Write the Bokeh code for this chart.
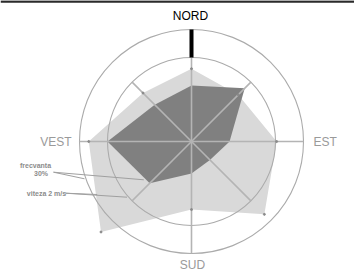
import numpy as np
from bokeh.plotting import figure
from bokeh.models import Range1d
from bokeh.core.properties import value
from bokeh.embed import file_html
from bokeh.resources import INLINE

# ---- data ----
directions = ["N", "NE", "E", "SE", "S", "SW", "W", "NW"]
angles_deg = [0, 45, 90, 135, 180, 225, 270, 315]
# values in ring units (inner ring = 3, outer ring = 4)
viteza = [2.60, 2.36, 3.04, 3.68, 2.43, 4.57, 3.67, 2.45]      # light polygon
frecventa = [2.00, 2.69, 1.36, 0.93, 1.14, 2.11, 3.00, 1.86]   # dark polygon
rings = [3, 4]
cardinal_labels = ["NORD", "EST", "SUD", "VEST"]

PX = 28.0  # pixels per ring unit

W, H = 354, 271
p = figure(width=W, height=H, output_backend="svg", toolbar_location=None,
           x_range=Range1d(-191, 163), y_range=Range1d(-130, 141),
           min_border=0)
p.axis.visible = False
p.grid.visible = False
p.outline_line_color = None
p.background_fill_color = "white"

# top frame line
p.segment(x0=[-191], y0=[140], x1=[163], y1=[140], line_color="#2a2a2a", line_width=2.5)

th = np.radians(angles_deg)

def xy(vals):
    r = np.array(vals) * PX
    return list(r * np.sin(th)), list(r * np.cos(th))

lx, ly = xy(viteza)
p.patch(lx, ly, fill_color="#d9d9d9", line_color=None)
dx, dy = xy(frecventa)
p.patch(dx, dy, fill_color="#808080", line_color=None)

# rings
for rv in rings:
    p.circle(x=[0], y=[0], radius=[rv * PX], fill_color=None,
             line_color="#ababab", line_width=1.1)

# spokes: cardinal to outer ring, diagonal to inner ring
x1, y1 = [], []
for a in angles_deg:
    rr = (rings[1] if a % 90 == 0 else rings[0]) * PX
    t = np.radians(a)
    x1.append(rr * np.sin(t)); y1.append(rr * np.cos(t))
p.segment(x0=[0] * 8, y0=[0] * 8, x1=x1, y1=y1, line_color="#b4b4b4", line_width=1.6)

# north marker bar
p.segment(x0=[0], y0=[rings[0] * PX], x1=[0], y1=[rings[1] * PX],
          line_color="black", line_width=4)

# tiny vertex markers
p.scatter(lx, ly, size=2, color="#8a8a8a", marker="circle")

font = value("Liberation Sans")
# cardinal labels
p.text(x=[-1], y=[126], text=["NORD"], text_align="center", text_baseline="middle",
       text_font=font, text_font_size="12px", text_color="black")
p.text(x=[122], y=[0], text=["EST"], text_align="left", text_baseline="middle",
       text_font=font, text_font_size="12px", text_color="#9a9a9a")
p.text(x=[-120], y=[0], text=["VEST"], text_align="right", text_baseline="middle",
       text_font=font, text_font_size="12px", text_color="#9a9a9a")
p.text(x=[1], y=[-123], text=["SUD"], text_align="center", text_baseline="middle",
       text_font=font, text_font_size="12px", text_color="#9a9a9a")

# annotations
p.segment(x0=[-138, -138], y0=[-30.7, -30.7], x1=[-107, -47.7], y1=[-37.3, -38.3],
          line_color="#a0a0a0", line_width=1)
p.segment(x0=[-126, -126], y0=[-51.7, -51.7], x1=[-94.3, -64.5], y1=[-53, -55.7],
          line_color="#a0a0a0", line_width=1)
p.text(x=[-156], y=[-24], text=["frecvanta"], text_align="center", text_baseline="middle",
       text_font=font, text_font_size="7px", text_font_style="bold", text_color="#8c8c8c")
p.text(x=[-150.5], y=[-32], text=["30%"], text_align="center", text_baseline="middle",
       text_font=font, text_font_size="7px", text_font_style="bold", text_color="#8c8c8c")
p.text(x=[-145], y=[-51.5], text=["viteza 2 m/s"], text_align="center", text_baseline="middle",
       text_font=font, text_font_size="7px", text_font_style="bold", text_color="#8c8c8c")

open("out.html", "w").write(file_html(p, INLINE))
